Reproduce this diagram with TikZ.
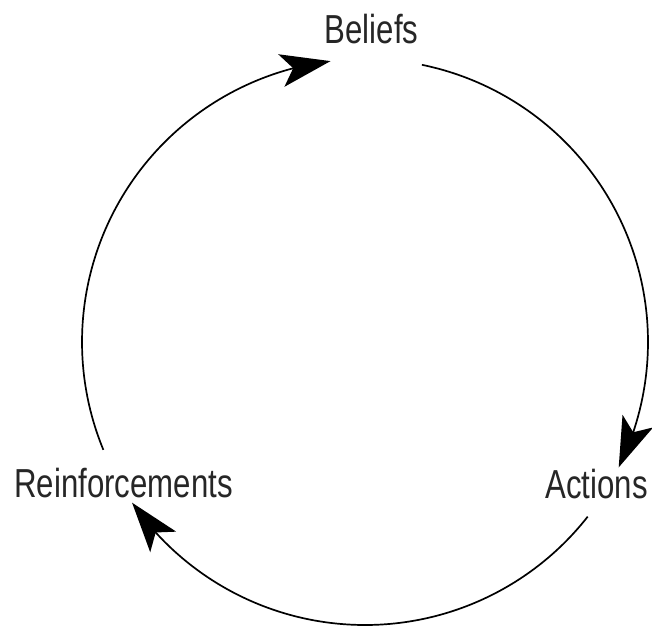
\documentclass[tikz,border=0pt]{standalone}
\usepackage{fontspec}
\newfontfamily\lblfont[FakeStretch=0.77]{Liberation Sans}
\usetikzlibrary{arrows.meta,bending}
\begin{document}
\begin{tikzpicture}[
    x=1pt, y=1pt,
    lbl/.style={anchor=base, inner sep=0pt, text=black!85, font=\lblfont\fontsize{40.5}{48}\selectfont},
    arrow/.style={-{Stealth[length=50pt, width=33pt, inset=12pt]}, line width=1.7pt}
]
\useasboundingbox (0,0) rectangle (652,-627);
\node[lbl] (beliefs) at (371.5,-43)  {Beliefs};
\node[lbl] (actions) at (596.5,-498) {Actions};
\node[lbl] (reinf)   at (123.5,-497) {Reinforcements};
\begin{scope}[shift={(365,-342)}]
\coordinate (fromreinf)   at (202.4:283);
\coordinate (frombeliefs) at (78.4:283);
\coordinate (fromactions) at (-38.1:283);
\end{scope}
\draw[arrow] (fromreinf)   arc[start angle=202.4, end angle=97,     radius=283];
\draw[arrow] (frombeliefs) arc[start angle=78.4,  end angle=-26.3,  radius=283];
\draw[arrow] (fromactions) arc[start angle=-38.1, end angle=-145.4, radius=283];
\end{tikzpicture}
\end{document}
